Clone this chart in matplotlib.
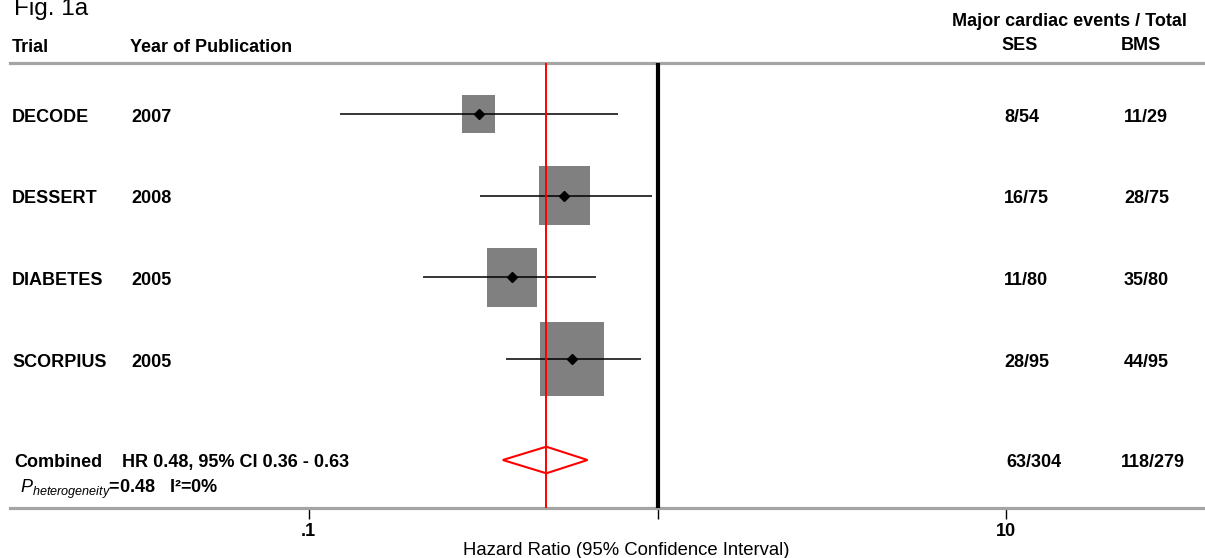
import numpy as np
import matplotlib
matplotlib.use('Agg')
import matplotlib.pyplot as plt
from matplotlib.path import Path
from matplotlib.ticker import NullLocator, FixedLocator, FixedFormatter

plt.rcParams['font.family'] = ['Liberation Sans', 'DejaVu Sans']
plt.rcParams['mathtext.fontset'] = 'custom'
plt.rcParams['mathtext.it'] = 'Liberation Sans:italic'
plt.rcParams['mathtext.rm'] = 'Liberation Sans'
plt.rcParams['mathtext.bf'] = 'Liberation Sans:bold'

# ---------------- data ----------------
trials = ['DECODE', 'DESSERT', 'DIABETES', 'SCORPIUS']
years = ['2007', '2008', '2005', '2005']
hr = [0.307, 0.540, 0.383, 0.569]
ci_low = [0.123, 0.310, 0.213, 0.368]
ci_high = [0.769, 0.964, 0.665, 0.895]
weights = [10.5, 25.1, 24.9, 39.5]
ses_events = ['8/54', '16/75', '11/80', '28/95']
bms_events = ['11/29', '28/75', '35/80', '44/95']

combined_hr = 0.48
combined_low = 0.36
combined_high = 0.63
combined_ses = '63/304'
combined_bms = '118/279'
combined_text = 'HR 0.48, 95% CI 0.36 - 0.63'
p_heterogeneity = '0.48'
i_squared = '0%'

xticks = [0.1, 1, 10]
xticklabels = ['.1', '', '10']
xlabel = 'Hazard Ratio (95% Confidence Interval)'

# ---------------- layout ----------------
W, H = 1205, 558
fig = plt.figure(figsize=(W / 100, H / 100), dpi=100)

top_px, bot_px = 63.3, 507.7
left_px = 10
x_one, decade = 657.5, 348.7

ax = fig.add_axes([left_px / W, (H - bot_px) / H, 1 - left_px / W, (bot_px - top_px) / H])
ax.set_xscale('log')
ax.set_xlim(10 ** ((left_px - x_one) / decade), 10 ** ((W - x_one) / decade))
ax.set_ylim(bot_px, top_px)

row_y = 114 + 81.7 * np.arange(len(trials))
comb_y = 460

for s in ['left', 'right']:
    ax.spines[s].set_visible(False)
for s in ['top', 'bottom']:
    ax.spines[s].set_color('#a4a4a4')
    ax.spines[s].set_linewidth(2.3)
ax.set_yticks([])
ax.xaxis.set_major_locator(FixedLocator(xticks))
ax.xaxis.set_major_formatter(FixedFormatter(xticklabels))
ax.xaxis.set_minor_locator(NullLocator())
ax.tick_params(axis='x', direction='out', length=8, width=1.0, color='black',
               pad=3, labelsize=13)
for lbl in ax.get_xticklabels():
    lbl.set_fontweight('bold')

# reference lines
ax.axvline(1, color='black', lw=3, zorder=4)
ax.axvline(combined_hr, color='red', lw=1.4, zorder=3.5)

# weight boxes
box = Path([(-0.43, -0.5), (0.43, -0.5), (0.43, 0.5), (-0.43, 0.5), (-0.43, -0.5)],
           [Path.MOVETO, Path.LINETO, Path.LINETO, Path.LINETO, Path.CLOSEPOLY])
ax.scatter(hr, row_y, s=np.array(weights) * 71.9, marker=box, color='#808080',
           linewidths=0, zorder=2)
# CIs
ax.hlines(row_y, ci_low, ci_high, color='black', lw=1.1, zorder=3)
ax.plot(hr, row_y, 'D', color='black', ms=5.5, zorder=5)

# combined diamond
half_h = 13.3
ax.fill([combined_low, combined_hr, combined_high, combined_hr],
        [comb_y, comb_y - half_h, comb_y, comb_y + half_h],
        fill=False, edgecolor='red', lw=1.5, zorder=5)

# ---------------- text overlay ----------------
tx = fig.add_axes([0, 0, 1, 1], zorder=10)
tx.set_xlim(0, W)
tx.set_ylim(H, 0)
tx.axis('off')
tx.patch.set_alpha(0)

fs = 13
tx.text(14, 15, 'Fig. 1a', fontsize=17.5, va='baseline', ha='left')
tx.text(12, 52.5, 'Trial', fontsize=fs, fontweight='bold', va='baseline')
tx.text(130, 52.5, 'Year of Publication', fontsize=fs, fontweight='bold', va='baseline')
tx.text(1069.5, 26.5, 'Major cardiac events / Total', fontsize=fs, fontweight='bold',
        va='baseline', ha='center')
tx.text(1020, 50, 'SES', fontsize=fs, fontweight='bold', va='baseline', ha='center')
tx.text(1141, 50, 'BMS', fontsize=fs, fontweight='bold', va='baseline', ha='center')

for y, t, yr, a, b in zip(row_y, trials, years, ses_events, bms_events):
    tx.text(12, y + 7.5, t, fontsize=fs, fontweight='bold', va='baseline')
    tx.text(131, y + 7.5, yr, fontsize=fs, fontweight='bold', va='baseline')
    tx.text(1004, y + 7.5, a, fontsize=fs, fontweight='bold', va='baseline')
    tx.text(1124, y + 7.5, b, fontsize=fs, fontweight='bold', va='baseline')

tx.text(14, comb_y + 7, 'Combined', fontsize=fs, fontweight='bold', va='baseline')
tx.text(122, comb_y + 7, combined_text, fontsize=fs, fontweight='bold', va='baseline')
tx.text(1006, comb_y + 7, combined_ses, fontsize=fs, fontweight='bold', va='baseline')
tx.text(1121, comb_y + 7, combined_bms, fontsize=fs, fontweight='bold', va='baseline')

tx.text(20, 493, r'$P_{heterogeneity}$=' + p_heterogeneity + '   I²=' + i_squared,
        fontsize=fs, fontweight='bold', va='baseline')

tx.text(626, 555, xlabel, fontsize=13.3, va='baseline', ha='center')

fig.savefig('out.png', dpi=100)
